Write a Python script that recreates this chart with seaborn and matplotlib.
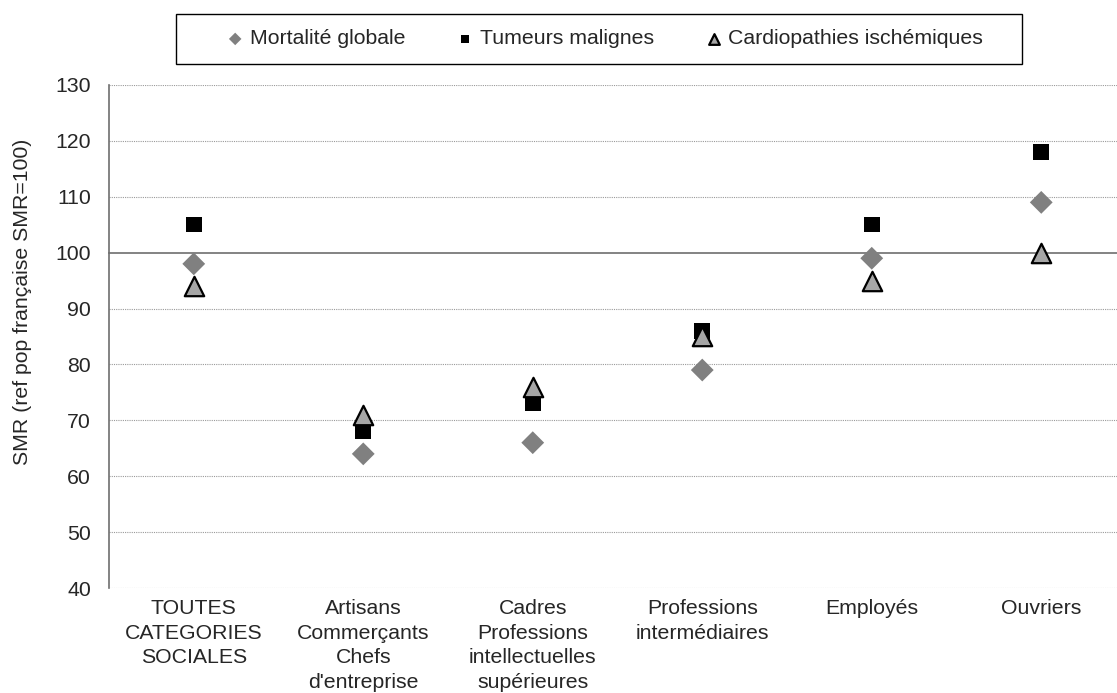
import numpy as np
import pandas as pd
import matplotlib
matplotlib.use('Agg')
import matplotlib.pyplot as plt
from matplotlib.patches import Rectangle
import seaborn as sns

categories = ['TOUTES\nCATEGORIES\nSOCIALES',
              'Artisans\nCommerçants\nChefs\nd\'entreprise',
              'Cadres\nProfessions\nintellectuelles\nsupérieures',
              'Professions\nintermédiaires',
              'Employés',
              'Ouvriers']
mortalite = [98, 64, 66, 79, 99, 109]
tumeurs = [105, 68, 73, 86, 105, 118]
cardio = [94, 71, 76, 85, 95, 100]
series_names = ['Mortalité globale', 'Tumeurs malignes', 'Cardiopathies ischémiques']
y_ticks = list(range(40, 131, 10))
y_label = 'SMR (ref pop française SMR=100)'

sns.set_style('white')
plt.rcParams['font.family'] = ['Liberation Sans', 'DejaVu Sans']
FS = 15.3

pos = np.arange(len(categories))
df = pd.DataFrame({
    'pos': np.tile(pos, 3),
    'value': mortalite + tumeurs + cardio,
    'series': np.repeat(series_names, len(categories)),
})

fig = plt.figure(figsize=(11.17, 6.93), dpi=100)
ax = fig.add_axes([109 / 1117, 1 - 588 / 693, 1017 / 1117, 503 / 693])

styles = {
    'Mortalité globale': dict(marker='D', s=135, color='#808080', edgecolor='none', linewidth=0),
    'Tumeurs malignes': dict(marker='s', s=125, color='black', edgecolor='none', linewidth=0),
    'Cardiopathies ischémiques': dict(marker='^', s=195, color='#a6a6a6', edgecolor='black', linewidth=1.6),
}
for name in series_names:
    sub = df[df['series'] == name]
    sns.scatterplot(data=sub, x='pos', y='value', ax=ax, label=name, zorder=3, **styles[name])

ax.set_xlim(-0.5, len(categories) - 0.5)
ax.set_ylim(40, 130)
ax.set_yticks(y_ticks)
for y in y_ticks:
    if y != 100:
        ax.axhline(y, color='#9a9a9a', lw=0.8, ls=(0, (1, 1)), zorder=1)

# horizontal axis crosses at 100
for s in ['top', 'right']:
    ax.spines[s].set_visible(False)
ax.spines['bottom'].set_position(('data', 100))
ax.spines['bottom'].set_color('#6e6e6e')
ax.spines['bottom'].set_linewidth(1.2)
ax.spines['left'].set_color('#6e6e6e')
ax.spines['left'].set_linewidth(1.2)
ax.set_xticks(np.arange(0.5, len(categories) - 0.5, 1))
ax.set_xticklabels([])
ax.tick_params(axis='x', direction='out', length=5, width=1, color='#6e6e6e')
ax.tick_params(axis='y', direction='out', length=5, width=1, color='#6e6e6e',
               labelsize=FS, pad=8)
ax.set_xlabel('')
ax.set_ylabel('')

sec = ax.secondary_xaxis(0)
sec.set_xticks(pos, categories)
sec.spines['bottom'].set_visible(False)
sec.tick_params(length=0, labelsize=FS, pad=8)
for t in sec.get_xticklabels():
    t.set_linespacing(1.37)

fig.text(23 / 1117, 1 - 302 / 693, y_label, rotation=90, ha='center', va='center', fontsize=FS)

handles, labels = ax.get_legend_handles_labels()
ax.get_legend().remove()
fig.legend(handles, labels, loc='center', bbox_to_anchor=(605 / 1117, 1 - 39 / 693),
           ncol=3, frameon=False, fontsize=FS, markerscale=0.55,
           handlelength=0.8, handletextpad=0.3, columnspacing=2.4)
fig.add_artist(Rectangle((176 / 1117, 1 - 64 / 693), 846 / 1117, 50 / 693,
                         transform=fig.transFigure, fill=False, edgecolor='black', lw=1))

fig.savefig('out.png', dpi=100)
